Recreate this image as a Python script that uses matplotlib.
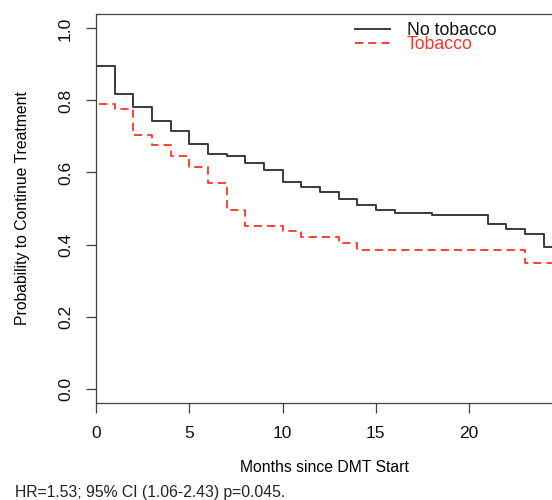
import matplotlib
matplotlib.use('Agg')
import matplotlib.pyplot as plt

plt.rcParams['font.family'] = ['Liberation Sans', 'DejaVu Sans']

# --- Data (Kaplan-Meier steps) ---
no_tob_months = [0, 0, 1, 2, 3, 4, 5, 6, 7, 8, 9, 10, 11, 12, 13, 14, 15, 16, 18, 21, 22, 23, 24, 24.6]
no_tob_surv = [1.0, 0.897, 0.817, 0.783, 0.743, 0.715, 0.680, 0.650, 0.645, 0.626, 0.607, 0.573,
               0.559, 0.546, 0.525, 0.511, 0.496, 0.488, 0.482, 0.456, 0.443, 0.428, 0.394, 0.394]

tob_months = [0, 0, 1, 2, 3, 4, 5, 6, 7, 8, 10, 11, 13, 14, 23, 24.6]
tob_surv = [1.0, 0.791, 0.777, 0.704, 0.676, 0.647, 0.616, 0.572, 0.497, 0.452, 0.437,
            0.420, 0.403, 0.386, 0.349, 0.349]

x_ticks = [0, 5, 10, 15, 20]
y_ticks = [0.0, 0.2, 0.4, 0.6, 0.8, 1.0]

W, H = 552, 500
fig = plt.figure(figsize=(W / 100, H / 100), dpi=100)
ax = fig.add_axes([96 / W, 1 - 403 / H, 1 - 96 / W, (403 - 14) / H])

axis_col = '#404040'
red = '#ff3424'

ax.plot(no_tob_months, no_tob_surv, drawstyle='steps-post', color='#3a3a3a', lw=1.4,
        label='No tobacco')
ax.plot(tob_months, tob_surv, drawstyle='steps-post', color=red, lw=1.3,
        linestyle=(0, (4.5, 2.8)), label='Tobacco')

ax.set_xlim(0, 24.44)
ax.set_ylim(-0.04, 1.04)
ax.set_xticks(x_ticks)
ax.set_yticks(y_ticks)
ax.set_xticklabels([str(t) for t in x_ticks])
ax.set_yticklabels([f'{t:.1f}' for t in y_ticks], rotation=90, va='center')

for side in ['left', 'top', 'bottom']:
    ax.spines[side].set_color(axis_col)
    ax.spines[side].set_linewidth(0.9)
ax.spines['right'].set_visible(False)
ax.tick_params(axis='both', length=7.5, width=0.9, color=axis_col, labelsize=12.5,
               labelcolor='#111111')
ax.tick_params(axis='x', pad=9)
ax.tick_params(axis='y', pad=9)

ax.set_xlabel('Months since DMT Start', fontsize=11.3, labelpad=14)
ax.set_ylabel('Probability to Continue Treatment', fontsize=11.3, labelpad=20)

leg = ax.legend(loc='upper left', bbox_to_anchor=(355 / W, 1 - 22 / H),
                bbox_transform=fig.transFigure, frameon=False, fontsize=12.7,
                borderpad=0, borderaxespad=0, handlelength=2.0, handletextpad=0.95,
                labelspacing=-0.16)
leg.get_texts()[0].set_color('#111111')
leg.get_texts()[1].set_color(red)

fig.text(15 / W, 1 - 493 / H, 'HR=1.53; 95% CI (1.06-2.43) p=0.045.', fontsize=11.3,
         va='center', ha='left', color='#222222')

fig.savefig('out.png', dpi=100)
